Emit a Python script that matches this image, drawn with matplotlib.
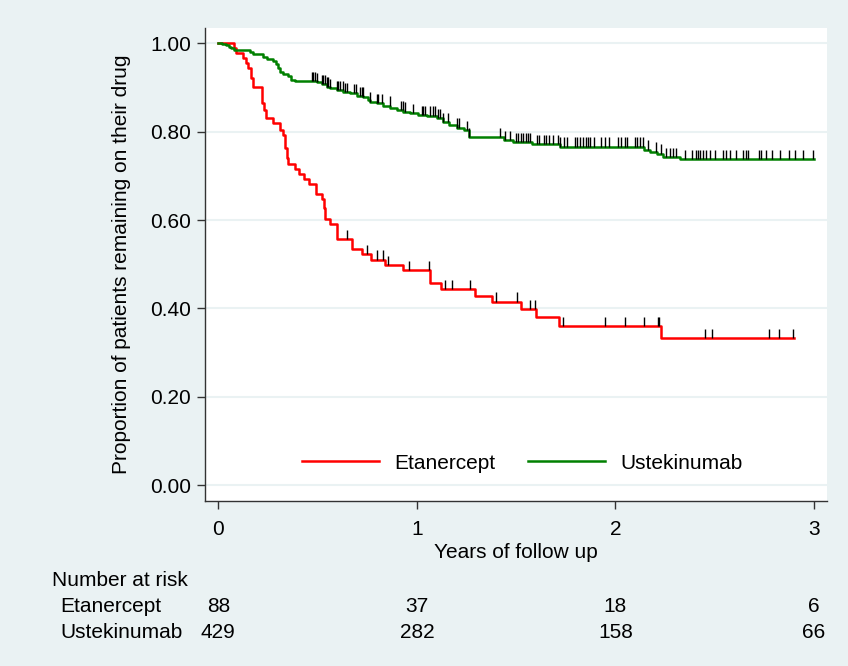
import numpy as np
import matplotlib
matplotlib.use("Agg")
import matplotlib.pyplot as plt

plt.rcParams["font.family"] = ["Liberation Sans", "DejaVu Sans"]

# Kaplan-Meier steps (years, proportion after the drop)
eta_times = [0.081, 0.09, 0.126, 0.139, 0.151, 0.163, 0.173, 0.218, 0.230, 0.240,
             0.277, 0.311, 0.324, 0.336, 0.344, 0.352, 0.386, 0.408, 0.431, 0.457,
             0.492, 0.521, 0.532, 0.539, 0.562, 0.596, 0.672, 0.722, 0.767, 0.839,
             0.928, 1.066, 1.120, 1.293, 1.380, 1.524, 1.600, 1.716, 2.229]
eta_surv = [0.989, 0.977, 0.966, 0.955, 0.943, 0.921, 0.900, 0.864, 0.849, 0.830,
            0.819, 0.804, 0.793, 0.762, 0.740, 0.726, 0.715, 0.704, 0.692, 0.681,
            0.659, 0.648, 0.627, 0.602, 0.590, 0.557, 0.535, 0.523, 0.510, 0.498,
            0.486, 0.458, 0.443, 0.428, 0.415, 0.398, 0.380, 0.360, 0.333]
eta_end = 2.899
eta_censor = [0.646, 0.747, 0.797, 0.831, 0.853, 0.960, 1.062, 1.141, 1.175, 1.267,
              1.398, 1.502, 1.569, 1.595, 1.737, 1.947, 2.048, 2.143, 2.214, 2.220,
              2.449, 2.486, 2.774, 2.825, 2.895]

ust_times = [0.017, 0.04, 0.055, 0.065, 0.08, 0.16, 0.175, 0.227, 0.245, 0.277,
             0.29, 0.30, 0.31, 0.324, 0.352, 0.366, 0.386, 0.495, 0.52, 0.545,
             0.562, 0.596, 0.63, 0.663, 0.697, 0.73, 0.755, 0.763, 0.797, 0.831,
             0.865, 0.898, 0.93, 0.965, 1.007, 1.049, 1.100, 1.133, 1.16, 1.20,
             1.235, 1.264, 1.44, 1.485, 1.578, 1.720, 2.143, 2.174, 2.207, 2.241,
             2.325]
ust_surv = [0.998, 0.996, 0.992, 0.989, 0.985, 0.981, 0.976, 0.970, 0.964, 0.960,
            0.952, 0.943, 0.936, 0.930, 0.925, 0.917, 0.915, 0.912, 0.907, 0.902,
            0.898, 0.894, 0.890, 0.887, 0.881, 0.879, 0.872, 0.868, 0.864, 0.859,
            0.853, 0.849, 0.845, 0.842, 0.838, 0.836, 0.830, 0.822, 0.815, 0.809,
            0.803, 0.787, 0.781, 0.777, 0.771, 0.766, 0.759, 0.755, 0.750, 0.742,
            0.738]
ust_end = 2.999
ust_censor = [0.470, 0.478, 0.487, 0.495, 0.520, 0.529, 0.537, 0.545, 0.554, 0.562,
              0.596, 0.604, 0.612, 0.629, 0.638, 0.646, 0.683, 0.691, 0.713, 0.722,
              0.730, 0.763, 0.797, 0.806, 0.822, 0.864, 0.918, 0.928, 0.940, 0.982,
              1.024, 1.032, 1.041, 1.066, 1.080, 1.091, 1.108, 1.116, 1.133, 1.158,
              1.200, 1.213, 1.250, 1.264, 1.418, 1.444, 1.469, 1.499, 1.511, 1.523,
              1.536, 1.549, 1.561, 1.569, 1.606, 1.616, 1.640, 1.650, 1.666, 1.687,
              1.712, 1.720, 1.740, 1.757, 1.795, 1.807, 1.821, 1.837, 1.851, 1.862,
              1.874, 1.892, 1.926, 1.946, 1.968, 2.013, 2.030, 2.047, 2.060, 2.097,
              2.109, 2.122, 2.136, 2.164, 2.206, 2.231, 2.256, 2.273, 2.290, 2.307,
              2.349, 2.387, 2.404, 2.416, 2.428, 2.441, 2.458, 2.478, 2.500, 2.539,
              2.555, 2.575, 2.609, 2.643, 2.656, 2.668, 2.723, 2.735, 2.760, 2.786,
              2.828, 2.875, 2.903, 2.945, 2.995]

risk_times = [0, 1, 2, 3]
eta_risk = [88, 37, 18, 6]
ust_risk = [429, 282, 158, 66]

BG = "#EAF2F3"
AXC = "#333333"
FS = 15


def step_arrays(times, surv, end):
    t = np.concatenate([[0.0], times, [end]])
    s = np.concatenate([[1.0], surv, [surv[-1]]])
    return t, s


def level_at(times, surv, c):
    t, s = np.concatenate([[0.0], times]), np.concatenate([[1.0], surv])
    idx = np.searchsorted(t, c, side="right") - 1
    return s[idx]


def main():
    fig = plt.figure(figsize=(8.48, 6.66), dpi=100, facecolor=BG)
    ax = fig.add_axes([205 / 848, 1 - 501 / 666, 622 / 848, 473 / 666])
    ax.set_facecolor("white")

    for (times, surv, end, cens, col, lab) in [
        (eta_times, eta_surv, eta_end, eta_censor, "#FF0000", "Etanercept"),
        (ust_times, ust_surv, ust_end, ust_censor, "#008000", "Ustekinumab"),
    ]:
        t, s = step_arrays(times, surv, end)
        ax.step(t, s, where="post", color=col, lw=1.8, label=lab, zorder=3)
        cy = level_at(times, surv, np.array(cens))
        ax.vlines(cens, cy, cy + 0.021, color="black", lw=1.0, zorder=4)

    ax.set_xlim(-0.067, 3.065)
    ax.set_ylim(-0.036, 1.0346)
    ax.set_xticks(risk_times)
    ax.set_yticks(np.arange(0, 1.01, 0.2))
    ax.set_yticklabels([f"{v:.2f}" for v in np.arange(0, 1.01, 0.2)])
    ax.grid(axis="y", color=BG, lw=1.5, zorder=0)
    for v in ["top", "right"]:
        ax.spines[v].set_visible(False)
    for v in ["left", "bottom"]:
        ax.spines[v].set_color(AXC)
        ax.spines[v].set_linewidth(1.0)
    ax.tick_params(axis="both", direction="out", color=AXC, width=1.0,
                   labelsize=FS, labelcolor="black")
    ax.tick_params(axis="y", length=6, pad=4)
    ax.tick_params(axis="x", length=5.5, pad=8)

    ax.set_xlabel("Years of follow up", fontsize=FS, labelpad=3)
    ax.set_ylabel("Proportion of patients remaining on their drug", fontsize=FS, labelpad=14)

    ax.legend(loc="center", bbox_to_anchor=(0.51, 0.08), ncol=2, frameon=False,
              fontsize=FS, handlelength=3.7, handletextpad=0.7, columnspacing=1.6)

    # number at risk table
    fig.text(52 / 848, 1 - 580 / 666, "Number at risk", fontsize=FS, va="center")
    for row, (lab, vals) in enumerate([("Etanercept", eta_risk), ("Ustekinumab", ust_risk)]):
        yy = 1 - (607 + 25 * row) / 666
        fig.text(60 / 848, yy, lab, fontsize=FS, va="center")
        for tt, v in zip(risk_times, vals):
            xf = ax.transData.transform((tt, 0))[0] / fig.bbox.width
            fig.text(xf, yy, str(v), fontsize=FS, va="center", ha="center")

    fig.savefig("out.png", dpi=100, facecolor=BG)


if __name__ == "__main__":
    main()
